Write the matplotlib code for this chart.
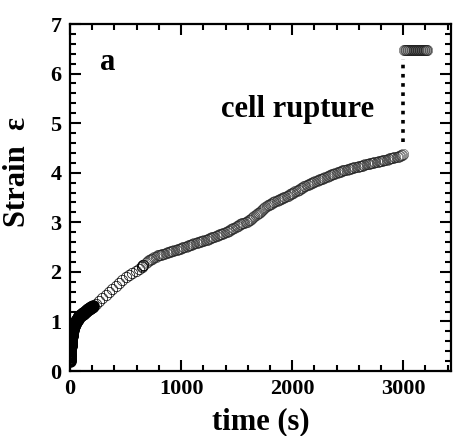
import matplotlib
matplotlib.use("Agg")
import matplotlib.pyplot as plt
from matplotlib.ticker import MultipleLocator

# ---- data ----
t_early = [0, 0.3, 0.6, 1, 1.3, 1.6, 2, 2.4, 2.8, 3.2, 3.6, 4, 4.5, 5, 5.5, 6, 6.6, 7.2,
           7.8, 8.4, 9, 9.7, 10.4, 11.2, 12, 13, 14, 15, 16, 17, 18.5, 20, 21.5, 23, 25,
           27, 29, 31, 34, 37, 40, 44, 48, 52, 56, 60, 65, 70, 75, 80, 85, 90, 96, 102,
           108, 114, 120, 127, 134, 141, 148, 155, 162, 169, 176, 183, 190, 197, 204]
eps_early = [0.20, 0.22, 0.25, 0.28, 0.30, 0.33, 0.35, 0.37, 0.40, 0.42, 0.44, 0.46, 0.48,
             0.50, 0.52, 0.53, 0.55, 0.57, 0.58, 0.60, 0.61, 0.62, 0.64, 0.65, 0.67, 0.68,
             0.70, 0.72, 0.73, 0.75, 0.77, 0.79, 0.80, 0.82, 0.84, 0.86, 0.87, 0.88, 0.90,
             0.91, 0.93, 0.95, 0.96, 0.98, 1.00, 1.02, 1.03, 1.05, 1.07, 1.08, 1.10, 1.11,
             1.12, 1.13, 1.14, 1.15, 1.17, 1.18, 1.20, 1.21, 1.22, 1.23, 1.25, 1.26, 1.27,
             1.28, 1.29, 1.30, 1.31]

t_mid = [230, 260, 290, 320, 350, 380, 410, 440, 470, 500, 530, 560, 590, 620, 645, 650,
         655, 660]
eps_mid = [1.36, 1.42, 1.48, 1.54, 1.60, 1.66, 1.72, 1.78, 1.84, 1.89, 1.94, 1.98, 2.02,
           2.06, 2.10, 2.12, 2.13, 2.14]

t_late = [680, 690, 700, 710, 720, 730, 740, 750, 760, 770,
          780, 790, 800, 810, 820, 830, 840, 850, 860, 870,
          880, 890, 900, 910, 920, 930, 940, 950, 960, 970,
          980, 990, 1000, 1010, 1020, 1030, 1040, 1050, 1060, 1070,
          1080, 1090, 1100, 1110, 1120, 1130, 1140, 1150, 1160, 1170,
          1180, 1190, 1200, 1210, 1220, 1230, 1240, 1250, 1260, 1270,
          1280, 1290, 1300, 1310, 1320, 1330, 1340, 1350, 1360, 1370,
          1380, 1390, 1400, 1410, 1420, 1430, 1440, 1450, 1460, 1470,
          1480, 1490, 1500, 1510, 1520, 1530, 1540, 1550, 1560, 1570,
          1580, 1590, 1600, 1610, 1620, 1630, 1640, 1650, 1660, 1670,
          1680, 1690, 1700, 1710, 1720, 1730, 1740, 1750, 1760, 1770,
          1780, 1790, 1800, 1810, 1820, 1830, 1840, 1850, 1860, 1870,
          1880, 1890, 1900, 1910, 1920, 1930, 1940, 1950, 1960, 1970,
          1980, 1990, 2000, 2010, 2020, 2030, 2040, 2050, 2060, 2070,
          2080, 2090, 2100, 2110, 2120, 2130, 2140, 2150, 2160, 2170,
          2180, 2190, 2200, 2210, 2220, 2230, 2240, 2250, 2260, 2270,
          2280, 2290, 2300, 2310, 2320, 2330, 2340, 2350, 2360, 2370,
          2380, 2390, 2400, 2410, 2420, 2430, 2440, 2450, 2460, 2470,
          2480, 2490, 2500, 2510, 2520, 2530, 2540, 2550, 2560, 2570,
          2580, 2590, 2600, 2610, 2620, 2630, 2640, 2650, 2660, 2670,
          2680, 2690, 2700, 2710, 2720, 2730, 2740, 2750, 2760, 2770,
          2780, 2790, 2800, 2810, 2820, 2830, 2840, 2850, 2860, 2870,
          2880, 2890, 2900, 2910, 2920, 2930, 2940, 2950, 2960, 2970,
          2980, 2990, 3000]
eps_late = [2.18, 2.20, 2.21, 2.23, 2.24, 2.25, 2.26, 2.28, 2.29, 2.30,
            2.31, 2.33, 2.34, 2.35, 2.35, 2.36, 2.36, 2.37, 2.38, 2.39,
            2.40, 2.40, 2.41, 2.42, 2.43, 2.43, 2.44, 2.45, 2.45, 2.46,
            2.47, 2.47, 2.48, 2.49, 2.50, 2.50, 2.51, 2.52, 2.53, 2.54,
            2.55, 2.55, 2.56, 2.57, 2.58, 2.58, 2.59, 2.60, 2.61, 2.61,
            2.62, 2.63, 2.63, 2.64, 2.65, 2.65, 2.66, 2.67, 2.68, 2.69,
            2.70, 2.70, 2.71, 2.72, 2.73, 2.74, 2.75, 2.76, 2.77, 2.77,
            2.78, 2.79, 2.80, 2.81, 2.82, 2.83, 2.84, 2.86, 2.87, 2.88,
            2.89, 2.91, 2.92, 2.93, 2.94, 2.96, 2.97, 2.98, 2.99, 2.99,
            3.00, 3.01, 3.02, 3.04, 3.05, 3.07, 3.09, 3.11, 3.12, 3.14,
            3.16, 3.18, 3.19, 3.21, 3.23, 3.25, 3.27, 3.29, 3.31, 3.33,
            3.34, 3.35, 3.36, 3.37, 3.38, 3.40, 3.41, 3.42, 3.43, 3.44,
            3.45, 3.46, 3.47, 3.49, 3.50, 3.51, 3.52, 3.53, 3.54, 3.56,
            3.57, 3.58, 3.59, 3.60, 3.61, 3.63, 3.64, 3.65, 3.66, 3.68,
            3.69, 3.70, 3.71, 3.73, 3.74, 3.75, 3.76, 3.77, 3.78, 3.79,
            3.80, 3.81, 3.82, 3.83, 3.84, 3.85, 3.86, 3.87, 3.88, 3.88,
            3.89, 3.90, 3.91, 3.92, 3.93, 3.94, 3.95, 3.96, 3.97, 3.97,
            3.98, 3.99, 4.00, 4.01, 4.02, 4.02, 4.03, 4.04, 4.05, 4.05,
            4.06, 4.06, 4.07, 4.07, 4.08, 4.09, 4.10, 4.10, 4.11, 4.11,
            4.12, 4.12, 4.13, 4.13, 4.14, 4.14, 4.15, 4.16, 4.17, 4.17,
            4.18, 4.18, 4.19, 4.19, 4.20, 4.20, 4.21, 4.21, 4.22, 4.22,
            4.23, 4.23, 4.24, 4.24, 4.25, 4.25, 4.26, 4.26, 4.27, 4.28,
            4.29, 4.29, 4.30, 4.30, 4.31, 4.31, 4.32, 4.32, 4.33, 4.34,
            4.35, 4.36, 4.38]

t_rupt = [3010, 3016, 3022, 3028, 3034, 3040, 3046, 3052, 3058, 3064,
          3070, 3076, 3082, 3088, 3094, 3100, 3106, 3112, 3118, 3124,
          3130, 3136, 3142, 3148, 3154, 3160, 3166, 3172, 3178, 3184,
          3190, 3196, 3202, 3208, 3214]
eps_rupt = [6.47, 6.47, 6.47, 6.47, 6.47, 6.47, 6.47, 6.47, 6.47, 6.47,
            6.47, 6.47, 6.47, 6.47, 6.47, 6.47, 6.47, 6.47, 6.47, 6.47,
            6.47, 6.47, 6.47, 6.47, 6.47, 6.47, 6.47, 6.47, 6.47, 6.47,
            6.47, 6.47, 6.47, 6.47, 6.47]

rupture_t = [3000, 3000]
rupture_eps = [4.62, 6.30]

x_ticks = [0, 1000, 2000, 3000]
y_ticks = [0, 1, 2, 3, 4, 5, 6, 7]

# ---- figure ----
plt.rcParams['font.family'] = ['Liberation Serif', 'DejaVu Serif']
plt.rcParams['font.weight'] = 'bold'

fig = plt.figure(figsize=(4.59, 4.36), dpi=100)
ax = fig.add_axes([70 / 459, 65 / 436, 381 / 459, 347 / 436])

mk = dict(marker='o', linestyle='none', markersize=7.5, markerfacecolor='none')
ax.plot(t_early, eps_early, markeredgewidth=1.6, markeredgecolor='black', **mk)
ax.plot(t_mid, eps_mid, markeredgewidth=0.5, markeredgecolor='black', **mk)
ax.plot(t_late, eps_late, markeredgewidth=0.35, markeredgecolor='#222222', **mk)
ax.plot(t_rupt, eps_rupt, markeredgewidth=0.35, markeredgecolor='#222222', **mk)
ax.plot(rupture_t, rupture_eps, color='black', linewidth=2.6,
        linestyle=(0, (1.0, 1.55)), dash_capstyle='butt')

ax.set_xlim(0, 3430)
ax.set_ylim(0, 7)
ax.set_xticks(x_ticks)
ax.set_yticks(y_ticks)
ax.xaxis.set_minor_locator(MultipleLocator(200))
ax.yaxis.set_minor_locator(MultipleLocator(0.2))

ax.tick_params(which='both', direction='in', top=True, right=True, width=1.5)
ax.tick_params(which='major', length=8, labelsize=16, pad=6)
ax.tick_params(which='minor', length=4.5)
for lab in ax.get_xticklabels() + ax.get_yticklabels():
    lab.set_fontweight('bold')
for s in ax.spines.values():
    s.set_linewidth(1.6)

ax.set_xlabel('time (s)', fontsize=22, fontweight='bold', labelpad=5.5)
ax.set_ylabel('Strain  ε', fontsize=22, fontweight='bold')
ax.yaxis.set_label_coords(-0.10, 0.573)

ax.text(270, 6.07, 'a', fontsize=22, fontweight='bold', ha='left', va='baseline')
ax.text(1360, 5.13, 'cell rupture', fontsize=22, fontweight='bold', ha='left',
        va='baseline')

fig.savefig('out.png', dpi=100)
